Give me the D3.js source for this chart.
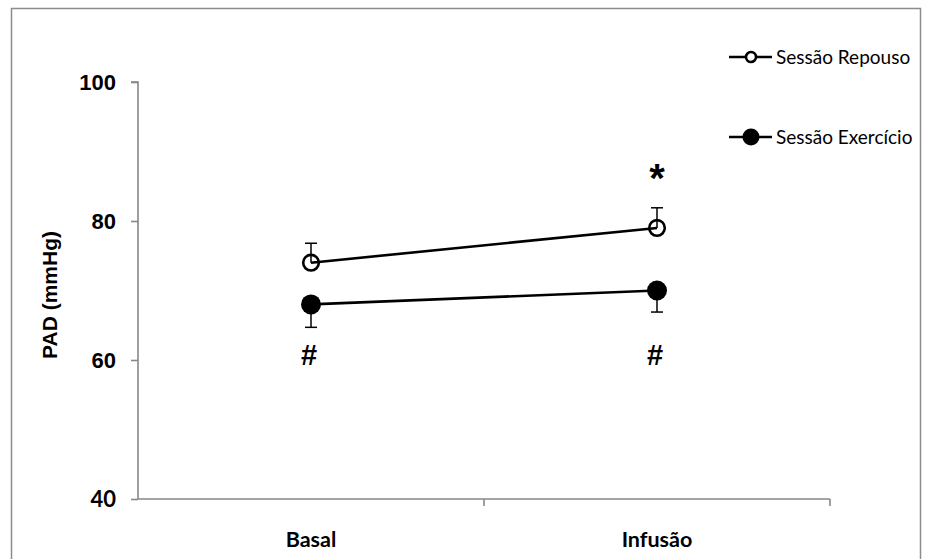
<!DOCTYPE html>
<html>
<head>
<meta charset="utf-8">
<script src="https://cdn.jsdelivr.net/npm/d3@7"></script>
<style>
  html, body { margin: 0; padding: 0; background: #fff; }
  svg { display: block; }
</style>
</head>
<body>
<svg id="chart" width="926" height="559"></svg>
<script>
// Diastolic blood pressure (PAD) by moment and session
const categories = ["Basal", "Infusão"];
const seriesNames = ["Sessão Repouso", "Sessão Exercício"];
const repousoValues = [74, 79];
const repousoErrors = [2.8, 2.9];
const exercicioValues = [68, 70];
const exercicioErrors = [3.3, 3.1];
const yTicks = [40, 60, 80, 100];
const hashMarks = ["#", "#"];
const starMarks = ["", "*"];

const svg = d3.select("#chart");
const axisColor = "#878787";
const arialFont = '"Arial"';
const calibriFont = '"Lato"';

// chart frame
svg.append("rect")
  .attr("x", 11.5).attr("y", 8.5)
  .attr("width", 909).attr("height", 580)
  .attr("fill", "none").attr("stroke", "#8c8c8c").attr("stroke-width", 1.5);

const plotLeft = 138, plotRight = 830, plotTop = 82, plotBottom = 499;

const x = d3.scaleBand().domain(categories).range([plotLeft, plotRight]);
const y = d3.scaleLinear().domain([40, 100]).range([plotBottom, plotTop]);
const cx = c => x(c) + x.bandwidth() / 2;

// y axis
const yAxis = svg.append("g").attr("transform", `translate(${plotLeft},0)`)
  .call(d3.axisLeft(y).tickValues(yTicks).tickSize(7).tickFormat(""));
yAxis.selectAll("path, line").attr("stroke", axisColor).attr("stroke-width", 1.6);
yAxis.select(".domain").attr("d", `M-7,${plotTop}H0V${plotBottom}`);

// y tick labels: Arial bold, bottom one in a Calibri-like face
svg.append("g").selectAll("text").data(yTicks).join("text")
  .attr("x", 116).attr("y", d => y(d))
  .attr("dy", "0.36em")
  .attr("text-anchor", "end")
  .style("font-family", d => d === 40 ? calibriFont : arialFont)
  .style("font-weight", "bold")
  .style("font-size", "22px")
  .attr("fill", "#000")
  .text(d => d);

// x axis
const xAxis = svg.append("g").attr("transform", `translate(0,${plotBottom})`)
  .call(d3.axisBottom(x).tickSize(0).tickFormat(""));
xAxis.select(".domain").attr("stroke", axisColor).attr("stroke-width", 1.6)
  .attr("d", `M${plotLeft},0H${plotRight}`);
// tick marks at band edges
const edges = [x(categories[1]), plotRight];
svg.append("g").selectAll("line").data(edges).join("line")
  .attr("x1", d => d).attr("x2", d => d)
  .attr("y1", plotBottom).attr("y2", plotBottom + 7)
  .attr("stroke", axisColor).attr("stroke-width", 1.6);

svg.append("g").selectAll("text").data(categories).join("text")
  .attr("x", d => cx(d)).attr("y", 547)
  .attr("text-anchor", "middle")
  .style("font-family", calibriFont)
  .style("font-weight", "bold")
  .style("font-size", "21.5px")
  .text(d => d);

// y axis title
svg.append("text")
  .attr("transform", `translate(57,295) rotate(-90)`)
  .attr("text-anchor", "middle")
  .style("font-family", arialFont)
  .style("font-weight", "bold")
  .style("font-size", "21px")
  .text("PAD (mmHg)");

const line = d3.line().x((d, i) => cx(categories[i])).y(d => y(d));

// error bars (one-sided)
function errorBars(values, errors, dir) {
  const g = svg.append("g").attr("stroke", "#000").attr("stroke-width", 1.5);
  values.forEach((v, i) => {
    const px = cx(categories[i]);
    const end = y(v + dir * errors[i]);
    g.append("line").attr("x1", px).attr("x2", px).attr("y1", y(v)).attr("y2", end);
    g.append("line").attr("x1", px - 6).attr("x2", px + 6).attr("y1", end).attr("y2", end);
  });
}
errorBars(repousoValues, repousoErrors, 1);
errorBars(exercicioValues, exercicioErrors, -1);

// series lines
svg.append("path").datum(repousoValues).attr("d", line)
  .attr("fill", "none").attr("stroke", "#000").attr("stroke-width", 2.6);
svg.append("path").datum(exercicioValues).attr("d", line)
  .attr("fill", "none").attr("stroke", "#000").attr("stroke-width", 2.6);

// markers
svg.append("g").selectAll("circle").data(repousoValues).join("circle")
  .attr("cx", (d, i) => cx(categories[i])).attr("cy", d => y(d))
  .attr("r", 7.8).attr("fill", "none").attr("stroke", "#000").attr("stroke-width", 2.6);
svg.append("g").selectAll("circle").data(exercicioValues).join("circle")
  .attr("cx", (d, i) => cx(categories[i])).attr("cy", d => y(d))
  .attr("r", 10).attr("fill", "#000");

// significance marks
svg.append("g").selectAll("text").data(hashMarks).join("text")
  .attr("x", (d, i) => cx(categories[i]) - 2).attr("y", 365)
  .attr("text-anchor", "middle")
  .style("font-family", arialFont)
  .style("font-weight", "bold")
  .style("font-size", "29px")
  .text(d => d);
svg.append("g").selectAll("text").data(starMarks).join("text")
  .attr("x", (d, i) => cx(categories[i])).attr("y", 192)
  .attr("text-anchor", "middle")
  .style("font-family", arialFont)
  .style("font-weight", "bold")
  .style("font-size", "40px")
  .text(d => d);

// legend
const legend = svg.append("g");
const legendY = [57, 137];
seriesNames.forEach((name, i) => {
  const g = legend.append("g").attr("transform", `translate(0,${legendY[i]})`);
  g.append("line").attr("x1", 729).attr("x2", 772).attr("y1", 0).attr("y2", 0)
    .attr("stroke", "#000").attr("stroke-width", 2.6);
  if (i === 0) {
    g.append("circle").attr("cx", 751).attr("cy", 0).attr("r", 5)
      .attr("fill", "#fff").attr("stroke", "#000").attr("stroke-width", 2.6);
  } else {
    g.append("circle").attr("cx", 751).attr("cy", 0).attr("r", 8.5).attr("fill", "#000");
  }
  g.append("text")
    .attr("x", 776).attr("y", 0).attr("dy", "0.35em")
    .style("font-family", calibriFont)
    .style("font-size", "19px")
    .text(name);
});
</script>
</body>
</html>
